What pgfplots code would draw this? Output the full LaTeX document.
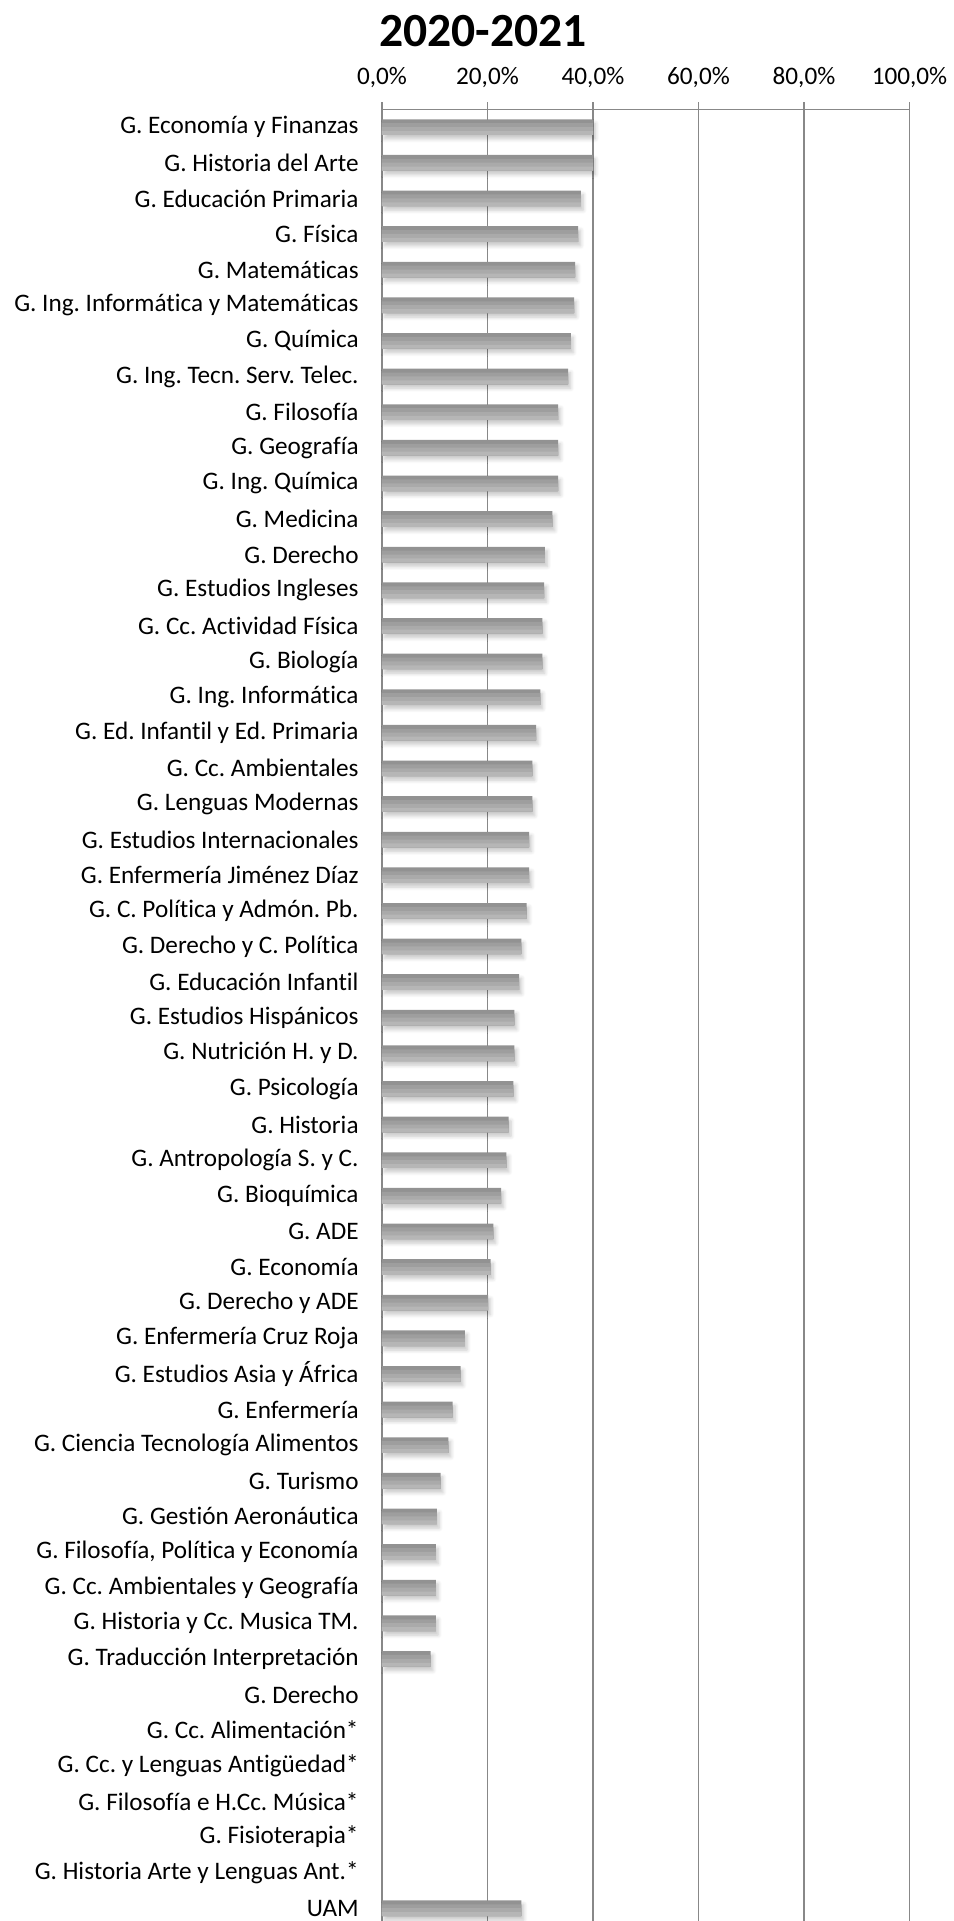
\documentclass[border=0pt]{standalone}
\usepackage{pgfplots}
\pgfplotsset{compat=1.18}
\usepackage{fontspec}
\setmainfont{Carlito}[Ligatures=NoCommon]
\usetikzlibrary{shadows.blur}
\definecolor{gridgray}{RGB}{136,136,136}
\definecolor{barA}{RGB}{146,146,146}
\definecolor{barB}{RGB}{158,158,158}
\definecolor{barC}{RGB}{170,170,170}
\definecolor{barD}{RGB}{182,182,182}
\pgfplotstableread{
i v
1 40.0
2 40.0
3 37.7
4 37.2
5 36.6
6 36.4
7 35.8
8 35.3
9 33.4
10 33.4
11 33.4
12 32.3
13 30.9
14 30.75
15 30.4
16 30.4
17 30.0
18 29.2
19 28.5
20 28.5
21 27.9
22 27.9
23 27.4
24 26.4
25 26.0
26 25.1
27 25.1
28 24.9
29 24.0
30 23.6
31 22.6
32 21.1
33 20.6
34 20.1
35 15.7
36 14.9
37 13.4
38 12.6
39 11.1
40 10.4
41 10.2
42 10.2
43 10.2
44 9.2
45 0
46 0
47 0
48 0
49 0
50 0
51 26.4
}\datatable
\begin{document}
\frenchspacing
\begin{tikzpicture}
\path[use as bounding box] (0,0) rectangle (476.5pt,960.5pt);
\node[font=\bfseries\fontsize{23.8}{28}\selectfont, anchor=base, inner sep=0pt] at (241.5pt,937.2pt) {2020-2021};
\begin{axis}[
  at={(191pt,-2.5pt)}, anchor=south west,
  scale only axis, width=263.75pt, height=908.35pt,
  xmin=0, xmax=100, ymin=0.5, ymax=51.5, y dir=reverse,
  axis x line*=top, axis y line*=left,
  axis line style={draw=gridgray, line width=0.8pt},
  xtick={0,20,40,60,80,100},
  xticklabels={{0,0\%},{20,0\%},{40,0\%},{60,0\%},{80,0\%},{100,0\%}},
  xmajorgrids, grid style={draw=gridgray, line width=0.8pt},
  tick align=outside, major tick length=3.5pt, minor tick length=4pt,
  tick style={draw=gridgray, line width=0.8pt},
  ytick={1,...,51}, ytick style={draw=none},
  minor ytick={0.5,1.5,...,51.5},
  minor tick style={draw=gridgray, line width=0.8pt},
  xticklabel style={font=\fontsize{12.6}{15}\selectfont, anchor=base, inner sep=0pt, yshift=9pt},
  yticklabel style={font=\fontsize{12.6}{15}\selectfont, anchor=east, inner sep=0pt, xshift=-8pt},
  yticklabels={
    {G. Economía y Finanzas},
    {G. Historia del Arte},
    {G. Educación Primaria},
    {G. Física},
    {G. Matemáticas},
    {G. Ing. Informática y Matemáticas},
    {G. Química},
    {G. Ing. Tecn. Serv. Telec.},
    {G. Filosofía},
    {G. Geografía},
    {G. Ing. Química},
    {G. Medicina},
    {G. Derecho},
    {G. Estudios Ingleses},
    {G. Cc. Actividad Física},
    {G. Biología},
    {G. Ing. Informática},
    {G. Ed. Infantil y Ed. Primaria},
    {G. Cc. Ambientales},
    {G. Lenguas Modernas},
    {G. Estudios Internacionales},
    {G. Enfermería Jiménez Díaz},
    {G. C. Política y Admón. Pb.},
    {G. Derecho y C. Política},
    {G. Educación Infantil},
    {G. Estudios Hispánicos},
    {G. Nutrición H. y D.},
    {G. Psicología},
    {G. Historia},
    {G. Antropología S. y C.},
    {G. Bioquímica},
    {G. ADE},
    {G. Economía},
    {G. Derecho y ADE},
    {G. Enfermería Cruz Roja},
    {G. Estudios Asia y África},
    {G. Enfermería},
    {G. Ciencia Tecnología Alimentos},
    {G. Turismo},
    {G. Gestión Aeronáutica},
    {G. Filosofía, Política y Economía},
    {G. Cc. Ambientales y Geografía},
    {G. Historia y Cc. Musica TM.},
    {G. Traducción Interpretación},
    {G. Derecho},
    {G. Cc. Alimentación*},
    {G. Cc. y Lenguas Antigüedad*},
    {G. Filosofía e H.Cc. Música*},
    {G. Fisioterapia*},
    {G. Historia Arte y Lenguas Ant.*},
    {UAM}
  },
  unbounded coords=discard,
  x filter/.expression={x<=0 ? nan : x},
  clip=false,
]
\addplot[xbar, bar width=7.8pt, bar shift=0pt, draw=none, fill=barA,
  blur shadow={shadow xshift=1.2pt, shadow yshift=-2pt, shadow blur steps=6, shadow opacity=22}]
  table[x=v, y=i] {\datatable};
\addplot[xbar, bar width=5.85pt, bar shift=-0.975pt, draw=none, fill=barB]
  table[x=v, y=i] {\datatable};
\addplot[xbar, bar width=3.9pt, bar shift=-1.95pt, draw=none, fill=barC]
  table[x=v, y=i] {\datatable};
\addplot[xbar, bar width=1.95pt, bar shift=-2.925pt, draw=none, fill=barD]
  table[x=v, y=i] {\datatable};
\end{axis}
\end{tikzpicture}
\end{document}
